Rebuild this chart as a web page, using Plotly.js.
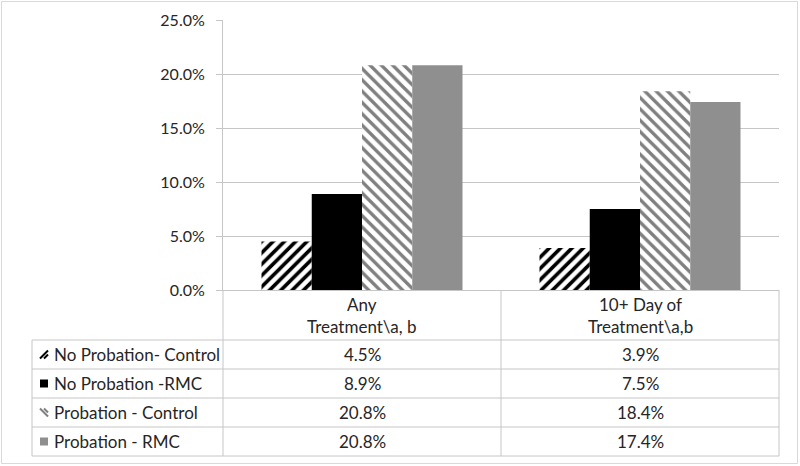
<!DOCTYPE html>
<html>
<head>
<meta charset="utf-8">
<script src="https://cdn.plot.ly/plotly-3.0.1.min.js"></script>
<style>
  body { margin: 0; background: #fff; }
  #chart { width: 800px; height: 466px; }
</style>
</head>
<body>
<div id="chart"></div>
<script>
// categories (line break marks where the header wraps)
const categories = ['Any<br>Treatment\\a, b', '10+ Day of<br>Treatment\\a,b'];

const seriesNames = ['No Probation- Control', 'No Probation -RMC', 'Probation - Control', 'Probation - RMC'];

// percent values
const noProbControl = [4.5, 3.9];
const noProbRMC = [8.9, 7.5];
const probControl = [20.8, 18.4];
const probRMC = [20.8, 17.4];

const yTickVals = [0, 5, 10, 15, 20, 25];
const yTickText = yTickVals.map(v => v.toFixed(1) + '%');

const allValues = [noProbControl, noProbRMC, probControl, probRMC];

const FONT = 'Lato, "Open Sans", sans-serif';
const TXT = '#262626';
const LINE = '#c6c6c6';
const FS = 17;

// figure geometry
const W = 800, H = 466;
const M = {l: 223, r: 21, t: 20, b: 176};
const PW = W - M.l - M.r, PH = H - M.t - M.b;
const px2x = px => (px - M.l) / PW;
const px2y = py => (H - M.b - py) / PH;

const styles = [
  {color: '#ffffff', pattern: {shape: '/', fgcolor: '#000000', bgcolor: '#ffffff', size: 8, solidity: 0.45}},
  {color: '#000000'},
  {color: '#ffffff', pattern: {shape: '\\', fgcolor: '#7f7f7f', bgcolor: '#ffffff', size: 8, solidity: 0.42}},
  {color: '#8f8f8f'}
];

const data = allValues.map((vals, i) => ({
  type: 'bar',
  x: categories,
  y: vals,
  name: seriesNames[i],
  marker: Object.assign({line: {width: 0}}, styles[i]),
  showlegend: false,
  hoverinfo: 'skip'
}));

// data table below the axis
const rowTop = 340, rowH = 29;
const tableLeft = 32, tableRight = 779, mid = 501;
const shapes = [];
const annotations = [];

function hline(y, x0, x1) {
  shapes.push({type: 'line', xref: 'paper', yref: 'paper', x0: px2x(x0), x1: px2x(x1), y0: px2y(y), y1: px2y(y), line: {color: LINE, width: 1}});
}
function vline(x, y0, y1) {
  shapes.push({type: 'line', xref: 'paper', yref: 'paper', x0: px2x(x), x1: px2x(x), y0: px2y(y0), y1: px2y(y1), line: {color: LINE, width: 1}});
}

for (let r = 0; r <= seriesNames.length; r++) hline(rowTop + r * rowH, tableLeft, tableRight);
const tableBottom = rowTop + seriesNames.length * rowH;
vline(tableLeft, rowTop, tableBottom);
vline(M.l, 290, tableBottom);
vline(mid, 290, tableBottom);
vline(tableRight, 290, tableBottom);

// header text
categories.forEach(cat => {
  cat.split('<br>').forEach((line, k) => {
    annotations.push({xref: 'x', yref: 'paper', x: cat, y: px2y(304 + k * 22), text: line, showarrow: false,
      xanchor: 'center', yanchor: 'middle', font: {family: FONT, size: FS, color: TXT}});
  });
});

// rows: swatch, name, values
seriesNames.forEach((name, i) => {
  const cy = rowTop + i * rowH + rowH / 2;
  annotations.push({xref: 'paper', yref: 'paper', x: px2x(52), y: px2y(cy), text: name, showarrow: false,
    xanchor: 'left', yanchor: 'middle', font: {family: FONT, size: FS, color: TXT}});
  categories.forEach((cat, j) => {
    annotations.push({xref: 'x', yref: 'paper', x: cat, y: px2y(cy), text: allValues[i][j].toFixed(1) + '%', showarrow: false,
      xanchor: 'center', yanchor: 'middle', font: {family: FONT, size: FS, color: TXT}});
  });
  const sx0 = 40, sx1 = 48, sy0 = cy - 4, sy1 = cy + 4;
  const seg = (a, b, c, d, col) => shapes.push({type: 'line', xref: 'paper', yref: 'paper',
    x0: px2x(a), y0: px2y(b), x1: px2x(c), y1: px2y(d), line: {color: col, width: 2}});
  if (i === 0) {
    seg(sx0, sy1, sx1, sy0, '#000');
    seg(sx0 + 4, sy1, sx1, cy, '#000');
  } else if (i === 2) {
    seg(sx0, sy0, sx1, sy1, '#7f7f7f');
    seg(sx0 + 4, sy0, sx1, cy, '#7f7f7f');
  } else {
    shapes.push({type: 'rect', xref: 'paper', yref: 'paper', x0: px2x(sx0), x1: px2x(sx1), y0: px2y(sy0), y1: px2y(sy1),
      fillcolor: styles[i].color, line: {width: 0}});
  }
});

// outer chart border
shapes.push({type: 'rect', xref: 'paper', yref: 'paper', x0: px2x(1.5), x1: px2x(797.5), y0: px2y(1.5), y1: px2y(463.5),
  line: {color: '#d9d9d9', width: 1}});

const layout = {
  width: W,
  height: H,
  margin: M,
  paper_bgcolor: '#ffffff',
  plot_bgcolor: '#ffffff',
  barmode: 'group',
  bargap: 0.277,
  bargroupgap: 0,
  showlegend: false,
  xaxis: {
    type: 'category',
    showticklabels: false,
    ticks: '',
    showgrid: false,
    showline: true,
    linecolor: LINE,
    linewidth: 1,
    zeroline: false
  },
  yaxis: {
    range: [0, 25],
    tickmode: 'array',
    tickvals: yTickVals,
    ticktext: yTickText,
    ticks: 'outside',
    ticklen: 6,
    tickcolor: LINE,
    ticklabelstandoff: 8,
    showgrid: true,
    gridcolor: LINE,
    showline: true,
    linecolor: LINE,
    zeroline: false,
    tickfont: {family: FONT, size: 16, color: TXT}
  },
  shapes: shapes,
  annotations: annotations
};

Plotly.newPlot('chart', data, layout, {staticPlot: true, displayModeBar: false});
</script>
</body>
</html>
